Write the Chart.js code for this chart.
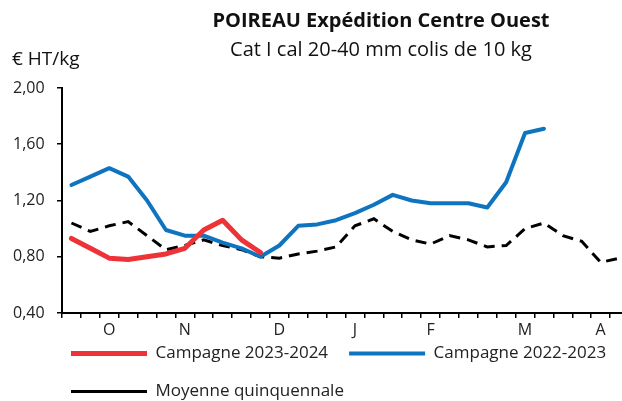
<!DOCTYPE html>
<html>
<head>
<meta charset="utf-8">
<script src="https://cdn.jsdelivr.net/npm/chart.js@4"></script>
<style>
  html, body { margin: 0; padding: 0; overflow: hidden; background: #fff; }
  #wrap { width: 629px; height: 410px; }
</style>
</head>
<body>
<div id="wrap"><canvas id="chart"></canvas></div>
<script>
// semaines de campagne (S38 -> S15)
const weeks = [38, 39, 40, 41, 42, 43, 44, 45, 46, 47, 48, 49, 50, 51, 52,
  1, 2, 3, 4, 5, 6, 7, 8, 9, 10, 11, 12, 13, 14, 15];
const monthLabels = ['', '', 'O', '', '', '', 'N', '', '', '', '', 'D', '', '', '',
  'J', '', '', '', 'F', '', '', '', '', 'M', '', '', '', 'A', ''];

const campagne2324 = [0.93, 0.86, 0.79, 0.78, 0.80, 0.82, 0.86, 0.99, 1.06, 0.92, 0.83];
const campagne2223 = [1.31, 1.37, 1.43, 1.37, 1.20, 0.99, 0.95, 0.95, 0.90, 0.86, 0.80,
  0.88, 1.02, 1.03, 1.06, 1.11, 1.17, 1.24, 1.20, 1.18, 1.18, 1.18, 1.15, 1.33, 1.68, 1.71];
const moyenne5ans = [1.04, 0.98, 1.02, 1.05, 0.95, 0.85, 0.88, 0.92, 0.88, 0.85, 0.80,
  0.79, 0.82, 0.84, 0.87, 1.02, 1.07, 0.98, 0.92, 0.89, 0.95, 0.92, 0.87, 0.88, 1.00,
  1.04, 0.95, 0.91, 0.76, 0.79];

const FONT = "'Open Sans', 'DejaVu Sans', sans-serif";

// titres + unité
const headerText = {
  id: 'headerText',
  afterDraw(chart) {
    const ctx = chart.ctx;
    ctx.save();
    ctx.fillStyle = '#111';
    ctx.textBaseline = 'middle';
    ctx.textAlign = 'center';
    ctx.font = "bold 20px " + FONT;
    ctx.fillText('POIREAU Expédition Centre Ouest', 381, 21);
    ctx.font = "20px " + FONT;
    ctx.fillText('Cat I cal 20-40 mm colis de 10 kg', 381, 50);
    ctx.textAlign = 'left';
    ctx.font = "19px " + FONT;
    ctx.fillText('€ HT/kg', 12, 60);
    ctx.restore();
  }
};

const ctx = document.getElementById('chart').getContext('2d');
new Chart(ctx, {
  type: 'line',
  data: {
    labels: weeks,
    datasets: [{
      label: 'Campagne 2023-2024',
      data: campagne2324,
      borderColor: '#EE3338',
      borderWidth: 5,
      borderCapStyle: 'round',
      borderJoinStyle: 'round',
      pointStyle: 'line'
    }, {
      label: 'Campagne 2022-2023',
      data: campagne2223,
      borderColor: '#0F74C0',
      borderWidth: 4,
      borderCapStyle: 'round',
      borderJoinStyle: 'round',
      pointStyle: 'line'
    }, {
      label: 'Moyenne quinquennale',
      data: moyenne5ans,
      borderColor: '#000',
      borderWidth: 3,
      borderDash: [11, 7],
      pointStyle: 'line'
    }]
  },
  options: {
    responsive: true,
    maintainAspectRatio: false,
    animation: false,
    layout: { padding: { top: 88, left: 50, right: 0, bottom: 0 } },
    elements: {
      point: { radius: 0, hoverRadius: 0 },
      line: { tension: 0, fill: false }
    },
    scales: {
      x: {
        offset: true,
        afterFit: function (scale) { scale.height = 11; },
        grid: {
          offset: true,
          drawOnChartArea: false,
          drawTicks: true,
          tickLength: 5,
          color: '#000',
          lineWidth: 1.5
        },
        border: { display: true, color: '#000', width: 2 },
        ticks: {
          autoSkip: false,
          maxRotation: 0,
          mirror: true,
          padding: -27,
          color: '#222',
          font: { family: FONT, size: 16 },
          callback: function (val, i) { return monthLabels[i]; }
        }
      },
      y: {
        min: 0.4,
        max: 2.0,
        afterFit: function (scale) { scale.width = 12; },
        grid: {
          drawOnChartArea: false,
          drawTicks: true,
          tickLength: 5,
          color: '#000',
          lineWidth: 1.5
        },
        border: { display: true, color: '#000', width: 2 },
        ticks: {
          stepSize: 0.4,
          mirror: true,
          padding: -49,
          color: '#222',
          font: { family: FONT, size: 16 },
          callback: function (v) { return v.toFixed(2).replace('.', ','); }
        }
      }
    },
    plugins: {
      title: { display: false },
      tooltip: { enabled: false },
      legend: {
        position: 'bottom',
        align: 'start',
        labels: {
          usePointStyle: true,
          pointStyleWidth: 76,
          padding: 21,
          color: '#222',
          font: { family: FONT, size: 17 }
        }
      }
    }
  },
  plugins: [headerText]
});
</script>
</body>
</html>
